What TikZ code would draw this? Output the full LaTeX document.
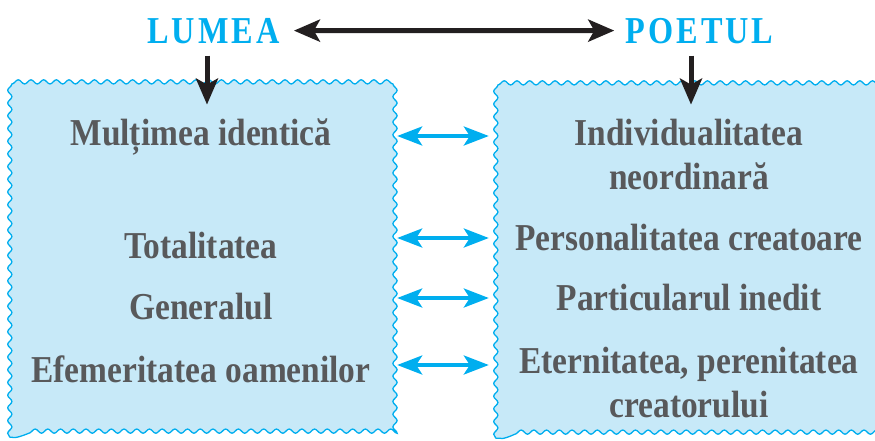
\documentclass[tikz,border=0pt]{standalone}
\usepackage{fontspec}
\setmainfont{Liberation Serif}
\newfontfamily\itemfont[FakeStretch=0.88]{Liberation Serif}
\newfontfamily\titlefont[FakeStretch=0.85,LetterSpace=8]{Liberation Serif}
\usetikzlibrary{arrows.meta,decorations.pathmorphing}
\definecolor{lumblue}{RGB}{0,174,239}
\definecolor{boxblue}{RGB}{199,233,248}
\definecolor{itemgray}{RGB}{88,89,91}
\definecolor{inkblack}{RGB}{35,31,32}

\begin{document}
\begin{tikzpicture}[x=1pt,y=-1pt,
  boxarea/.style={inner sep=0pt},
  wavy/.style={draw=lumblue, fill=boxblue, line width=1.3pt,
    decorate, decoration={snake, segment length=12.7pt, amplitude=2.1pt}},
  item/.style={anchor=base, inner sep=0pt, text=itemgray,
    font=\itemfont\bfseries\fontsize{38}{40}\selectfont},
  title/.style={anchor=base, inner sep=0pt, text=lumblue,
    font=\titlefont\bfseries\fontsize{38}{40}\selectfont},
  darr/.style={line width=5pt, draw=inkblack, -{Stealth[length=26pt,width=22pt,inset=6pt]}},
  barr/.style={line width=3.6pt, draw=lumblue,
    {Stealth[length=25pt,width=19pt,inset=6pt]}-{Stealth[length=25pt,width=19pt,inset=6pt]},
    shorten <=8pt, shorten >=7pt}]
\useasboundingbox (0,0) rectangle (875,440);
\clip (0,0) rectangle (875,440);

% the two boxes
\node[boxarea, minimum width=379pt, minimum height=349pt] (lumeabox) at (199.5,262.5) {};
\node[boxarea, minimum width=404pt, minimum height=350pt] (poetbox) at (698,263) {};
\draw[wavy] (lumeabox.south west) rectangle (lumeabox.north east);
\draw[wavy] (poetbox.south west) rectangle (poetbox.north east);

\node[title] (lumea) at (213.5,43) {LUMEA};
\node[title] (poetul) at (699.5,43) {POETUL};

\draw[darr, {Stealth[length=26pt,width=22pt,inset=6pt]}-{Stealth[length=26pt,width=22pt,inset=6pt]},
  shorten <=14pt, shorten >=11pt] (lumea.east) -- (poetul.west);
\draw[darr] ([xshift=-6.5pt]lumea.south) ++(0,12) -- ++(0,49);
\draw[darr] ([xshift=-8.5pt]poetul.south) ++(0,12) -- ++(0,49);

% left column
\node[item] (l1) at (201,145) {Mulțimea identică};
\node[item] (l2) at (201,258) {Totalitatea};
\node[item] (l3) at (201,319) {Generalul};
\node[item] (l4) at (201,382) {Efemeritatea oamenilor};

% right column
\node[item] (p1) at (689,145) {Individualitatea};
\node[item] (p1b) at (689,189) {neordinară};
\node[item] (p2) at (689,250) {Personalitatea creatoare};
\node[item] (p3) at (689,310) {Particularul inedit};
\node[item] (p4) at (689,373) {Eternitatea, perenitatea};
\node[item] (p4b) at (689,417) {creatorului};

\coordinate (r1) at (0,136);
\coordinate (r2) at (0,238);
\coordinate (r3) at (0,298);
\coordinate (r4) at (0,365);
\foreach \r in {r1,r2,r3,r4}
  \draw[barr] (lumeabox.east |- \r) -- (poetbox.west |- \r);

\end{tikzpicture}
\end{document}
